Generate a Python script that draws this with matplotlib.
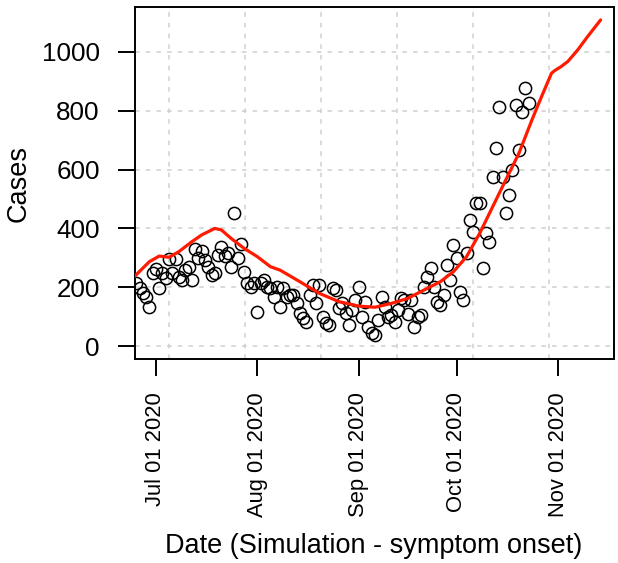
import matplotlib
matplotlib.use("Agg")
import matplotlib.pyplot as plt
import matplotlib.dates as mdates
import numpy as np
import pandas as pd

plt.rcParams['font.family'] = ['Liberation Sans', 'DejaVu Sans']

# ---- data ----
case_start = "2020-06-25"
cases = [213, 196, 179, 168, 132, 247, 261, 196, 247, 230, 295, 247, 295, 236, 224,
         258, 270, 224, 329, 298, 323, 292, 270, 241, 247, 310, 338, 306, 315, 270,
         451, 300, 347, 253, 213, 202, 213, 117, 213, 224,
         202, 196, 168, 202, 134, 196, 168, 173, 173, 145, 111, 94, 83, 173, 207,
         145, 207, 100, 77, 71, 196, 190, 128, 145, 111, 71, 122, 156, 202, 100,
         151, 66, 43, 37, 88, 168, 134, 100, 105, 83, 122, 162,
         156, 110, 156, 66, 100, 105, 202, 236, 264, 202, 151, 139, 173, 276, 224,
         344, 298, 185, 156, 315, 429, 389, 485, 485, 264, 383, 355, 576, 672, 814,
         576, 451, 514, 599, 820, 667, 797, 877, 826]

curve_dates = ["2020-06-24", "2020-06-29", "2020-07-02", "2020-07-05", "2020-07-08",
               "2020-07-12", "2020-07-15", "2020-07-19", "2020-07-21", "2020-07-24",
               "2020-07-28", "2020-08-01", "2020-08-05", "2020-08-08", "2020-08-14",
               "2020-08-20", "2020-08-26", "2020-09-01", "2020-09-06", "2020-09-11",
               "2020-09-16", "2020-09-20", "2020-09-26", "2020-09-30", "2020-10-04",
               "2020-10-08", "2020-10-12", "2020-10-16", "2020-10-20", "2020-10-24",
               "2020-10-27", "2020-10-30", "2020-10-31", "2020-11-02", "2020-11-04",
               "2020-11-07", "2020-11-10", "2020-11-14"]
curve_values = [232, 287, 306, 302, 321, 355, 378, 400, 395, 366,
                332, 304, 270, 258, 219, 179, 151, 136, 132, 145,
                162, 185, 219, 253, 304, 383, 474, 565, 655, 769,
                850, 928, 937, 951, 968, 1007, 1052, 1109]

tick_dates = ["2020-07-01", "2020-08-01", "2020-09-01", "2020-10-01", "2020-11-01"]
tick_labels = ["Jul 01 2020", "Aug 01 2020", "Sep 01 2020", "Oct 01 2020", "Nov 01 2020"]
y_ticks = [0, 200, 400, 600, 800, 1000]

# ---- figure ----
W, H = 618, 563
fig = plt.figure(figsize=(W / 100, H / 100), dpi=100)
L, R, T, B = 134.7, 614, 7, 359
ax = fig.add_axes([L / W, (H - B) / H, (R - L) / W, (B - T) / H])

case_dates = pd.date_range(case_start, periods=len(cases), freq="D")
cdates = pd.to_datetime(curve_dates)

# grid
jul1 = mdates.date2num(pd.Timestamp("2020-07-01"))
vgrid = jul1 + 4.07 + 23.22 * np.arange(6)
gkw = dict(color="#cfcfcf", lw=1.1, dashes=(3, 4), zorder=0)
for g in vgrid:
    ax.axvline(g, **gkw)
for yv in y_ticks:
    ax.axhline(yv, **gkw)

ax.plot(case_dates, cases, linestyle="none", marker="o", ms=8.8,
        mfc="none", mec="black", mew=1.1, zorder=2)
ax.plot(cdates, curve_values, color="#ff1a00", lw=2.3, zorder=3,
        solid_joinstyle="round", solid_capstyle="round")

ax.set_xlim(jul1 - 6.5, jul1 + 140.1)
ax.set_ylim(-44, 1153)

ax.set_xticks(pd.to_datetime(tick_dates))
ax.set_xticklabels(tick_labels, rotation=90, fontsize=15.8)
ax.set_yticks(y_ticks)
ax.set_yticklabels([str(v) for v in y_ticks], fontsize=18.7)
ax.tick_params(axis="x", length=12.2, width=1.4, pad=11.5)
ax.tick_params(axis="y", length=12.2, width=1.4, pad=13)
for s in ax.spines.values():
    s.set_linewidth(1.4)

fig.text(373.5 / W, (H - 546) / H, "Date (Simulation - symptom onset)",
         ha="center", va="center", fontsize=19.5)
fig.text(19 / W, (H - 184) / H, "Cases", rotation=90,
         ha="center", va="center", fontsize=19.5)

fig.savefig("out.png", dpi=100)
